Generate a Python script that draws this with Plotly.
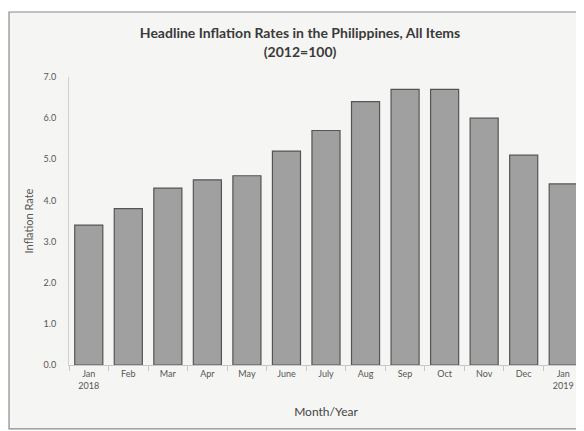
import plotly.graph_objects as go

months = ["Jan<br>2018", "Feb", "Mar", "Apr", "May", "June", "July", "Aug", "Sep", "Oct", "Nov", "Dec", "Jan<br>2019"]
inflation = [3.4, 3.8, 4.3, 4.5, 4.6, 5.2, 5.7, 6.4, 6.7, 6.7, 6.0, 5.1, 4.4]
y_ticks = [0, 1, 2, 3, 4, 5, 6, 7]
y_tick_labels = ["0.0", "1.0", "2.0", "3.0", "4.0", "5.0", "6.0", "7.0"]

fig = go.Figure()
fig.add_trace(go.Bar(
    x=months, y=inflation,
    marker=dict(color="#a0a0a0", line=dict(color="#555555", width=1.2)),
))

# chart frame (scanned chart border)
fig.add_shape(
    type="rect", xref="paper", yref="paper",
    x0=-0.1167, x1=1.1, y0=-0.222, y1=1.2257,
    line=dict(color="#8a8a8a", width=1.2),
    fillcolor="#f5f5f3", layer="below",
)

fig.update_layout(
    width=576, height=423,
    margin=dict(l=61, r=1, t=69, b=66),
    paper_bgcolor="#ffffff", plot_bgcolor="rgba(0,0,0,0)",
    bargap=0.29,
    showlegend=False,
    font=dict(family="Lato, sans-serif", color="#555555"),
    title=dict(
        text="<b>Headline Inflation Rates in the Philippines, All Items<br>(2012=100)</b>",
        x=0.507, xanchor="center", y=0.928, yanchor="top",
        font=dict(size=14, color="#3a3a3a", family="Lato, sans-serif"),
    ),
    xaxis=dict(
        title=dict(text="Month/Year", font=dict(size=12, color="#444444"), standoff=18),
        tickfont=dict(size=9, color="#555555"),
        showline=True, linecolor="#c8c8c8", linewidth=1,
        ticks="outside", ticklen=5, tickcolor="#c8c8c8", tickson="boundaries",
        showgrid=False, automargin=False,
    ),
    yaxis=dict(
        title=dict(text="Inflation Rate", font=dict(size=11, color="#555555"), standoff=7),
        range=[0, 7.0], tickvals=y_ticks, ticktext=y_tick_labels,
        tickfont=dict(size=9, color="#555555"),
        showline=True, linecolor="#d0d0d0", linewidth=1,
        showgrid=False, zeroline=False, ticks="", ticklabelstandoff=10,
        automargin=False,
    ),
)

fig.write_html("out.html")
